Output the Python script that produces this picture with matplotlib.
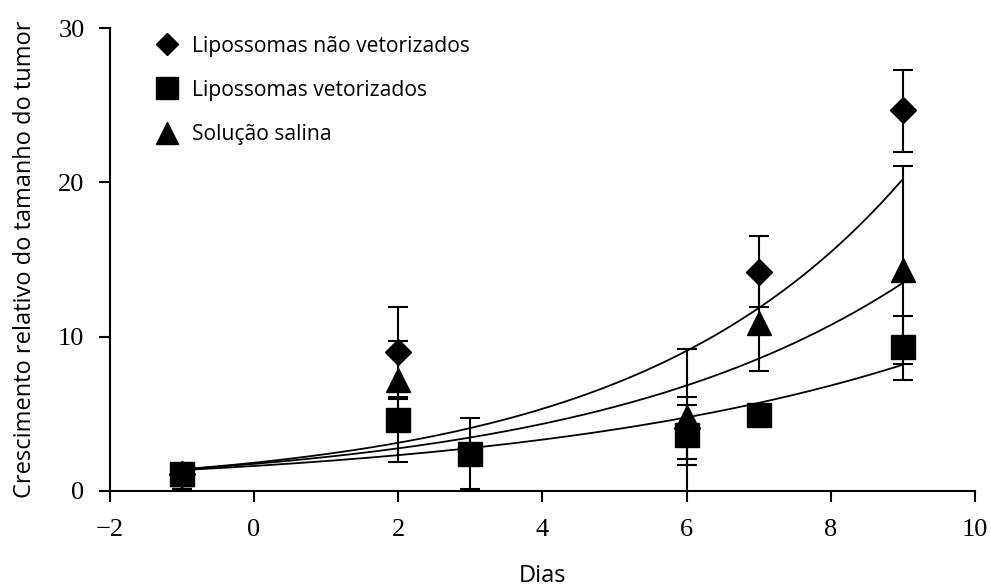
import numpy as np
import matplotlib
matplotlib.use("Agg")
import matplotlib.pyplot as plt
from matplotlib.lines import Line2D

# ---- data ----
labels = ["Lipossomas não vetorizados", "Lipossomas vetorizados", "Solução salina"]

dias_nv = [-1, 2, 6, 7, 9]
val_nv = [1.1, 9.0, 4.1, 14.2, 24.7]
err_nv_low = [1.0, 2.9, 2.0, 2.3, 2.7]
err_nv_up = [0.4, 2.9, 2.0, 2.3, 2.6]

dias_v = [-1, 2, 3, 6, 7, 9]
val_v = [1.1, 4.6, 2.4, 3.6, 4.95, 9.35]
err_v_low = [1.0, 2.75, 2.25, 1.9, 0.3, 1.15]
err_v_up = [0.5, 1.35, 2.3, 1.95, 0.3, 2.0]

dias_s = [-1, 2, 6, 7, 9]
val_s = [1.1, 7.2, 4.8, 10.9, 14.3]
err_s_low = [1.0, 2.5, 5.0, 3.1, 7.1]
err_s_up = [0.4, 2.5, 4.4, 3.1, 6.8]

# exponential trend lines y = a*exp(b*x), fitted range -1..9
fit_a = [1.83, 1.62, 1.756]   # não vetorizados, vetorizados, salina
fit_b = [0.267, 0.180, 0.2266]
fit_range = [-1, 9]

xticks = [-2, 0, 2, 4, 6, 8, 10]
yticks = [0, 10, 20, 30]

# ---- figure ----
fig = plt.figure(figsize=(9.91, 5.88), dpi=100)
ax = fig.add_axes([0.1105, 0.165, 0.984 - 0.1105, 0.952 - 0.165])

xs = np.linspace(fit_range[0], fit_range[1], 300)
for a, b in zip(fit_a, fit_b):
    ax.plot(xs, a * np.exp(b * xs), color="black", lw=1.3, zorder=2)

ebkw = dict(color="black", ecolor="black", elinewidth=1.5, capsize=7, capthick=1.5,
            linestyle="none", zorder=3)
ax.errorbar(dias_nv, val_nv, yerr=[err_nv_low, err_nv_up], fmt="D", markersize=13.5, **ebkw)
ax.errorbar(dias_s, val_s, yerr=[err_s_low, err_s_up], fmt="^", markersize=17, **ebkw)
ax.errorbar(dias_v, val_v, yerr=[err_v_low, err_v_up], fmt="s", markersize=17.5, **ebkw)

ax.set_xlim(-2, 10)
ax.set_ylim(0, 30)
ax.set_xticks(xticks)
ax.set_yticks(yticks)
ax.set_xticklabels(["\u22122" if t < 0 else str(t) for t in xticks])
for s in ["top", "right"]:
    ax.spines[s].set_visible(False)
for s in ["left", "bottom"]:
    ax.spines[s].set_linewidth(1.5)
ax.tick_params(direction="out", length=8, width=1.5, labelsize=19)
ax.tick_params(axis="x", pad=12)
ax.tick_params(axis="y", pad=10)
for lab in ax.get_xticklabels() + ax.get_yticklabels():
    lab.set_fontfamily("Liberation Serif")

ax.set_xlabel("Dias", fontsize=17, fontfamily="Open Sans", labelpad=17)
ax.set_ylabel("Crescimento relativo do tamanho do tumor", fontsize=17,
              fontfamily="Open Sans", labelpad=15)

handles = [
    Line2D([], [], marker="D", color="black", linestyle="none", markersize=11),
    Line2D([], [], marker="s", color="black", linestyle="none", markersize=16),
    Line2D([], [], marker="^", color="black", linestyle="none", markersize=16),
]
leg = ax.legend(handles, labels, loc="upper left", bbox_to_anchor=(0.03, 1.025),
                frameon=False, prop={"family": "Open Sans", "size": 15.2},
                labelspacing=1.1, handletextpad=0.6, handlelength=1.2)

fig.savefig("out.png", dpi=100)
